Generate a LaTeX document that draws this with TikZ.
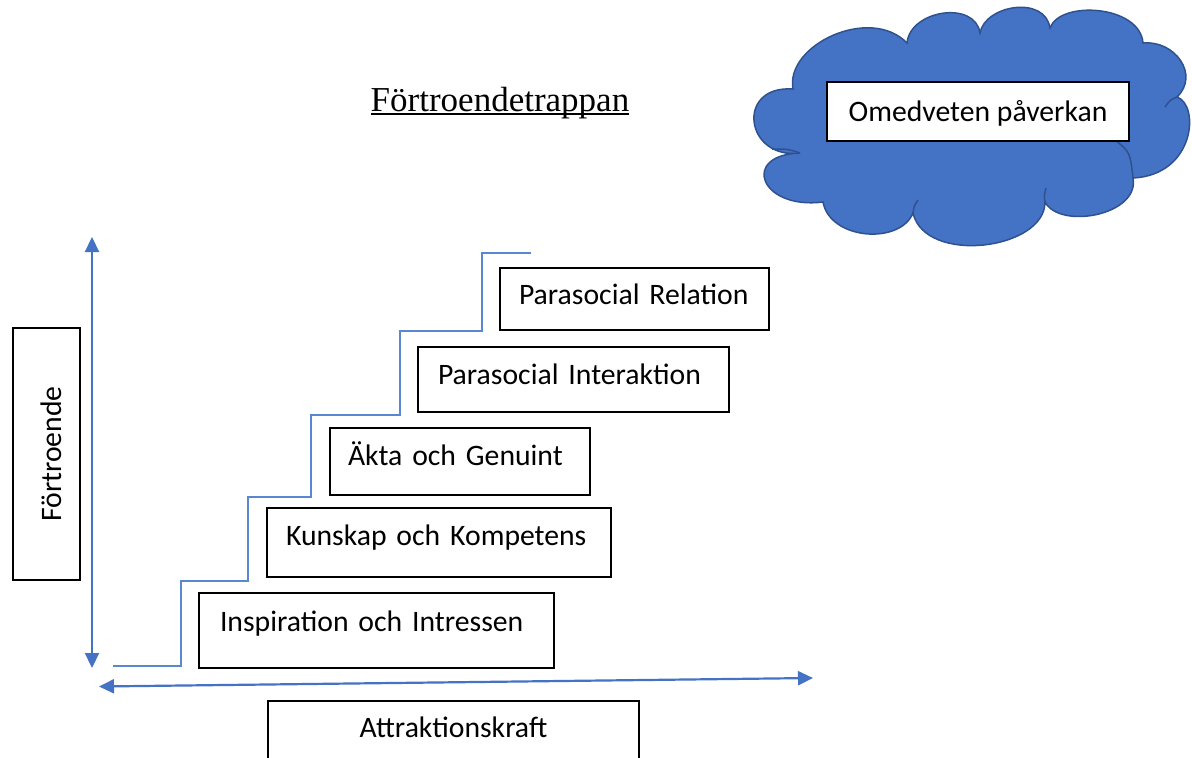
\documentclass[tikz,border=0pt]{standalone}
\usepackage{fontspec}
\setmainfont{Carlito}
\newfontfamily\titlefont{Liberation Serif}
\usetikzlibrary{arrows.meta}
\definecolor{cloudfill}{HTML}{4472C4}
\definecolor{cloudline}{HTML}{2F528F}
\definecolor{arrowblue}{HTML}{4472C4}
\definecolor{stairblue}{HTML}{5B87D2}
\newcommand\myul[1]{\setbox0\hbox{#1}\rlap{\copy0}\rule[-4pt]{\wd0}{1.8pt}}
\begin{document}
\begin{tikzpicture}[x=1pt,y=-1pt,
  stepbox/.style={draw=black, line width=2pt, fill=white, inner ysep=0pt,
    anchor=north west, align=left, font=\fontsize{29.7}{34}\selectfont},
  centerbox/.style={draw=black, line width=2pt, fill=white, inner sep=0pt,
    anchor=north west, align=center, font=\fontsize{29.7}{34}\selectfont},
  axisarrow/.style={draw=arrowblue, line width=2.2pt,
    {Triangle[length=15pt,width=14pt]}-{Triangle[length=15pt,width=14pt]}},
  stairline/.style={draw=stairblue, line width=2pt, line join=miter},
  cloudshape/.style={fill=cloudfill, draw=cloudline, line width=1.5pt},
  cloudinner/.style={draw=cloudline, line width=1.5pt}
]
\useasboundingbox (0,0) rectangle (1192,758);
\clip (0,0) rectangle (1192,758);
\fill[white] (0,0) rectangle (1192,758);

% title
\node[anchor=base, inner sep=0pt, font=\titlefont\fontsize{35}{40}\selectfont] (title) at (500,111) {\myul{Förtroendetrappan}};

% cloud
\path[cloudshape] (793,89)
  .. controls (785,45) and (870,5) .. (907,43)
  .. controls (910,10) and (975,0) .. (980,33)
  .. controls (985,5) and (1045,-5) .. (1050,28)
  .. controls (1060,0) and (1140,5) .. (1143,43)
  .. controls (1175,40) and (1200,75) .. (1177,97)
  .. controls (1200,105) and (1195,175) .. (1133,178)
  .. controls (1140,215) and (1060,230) .. (1045,202)
  .. controls (1045,250) and (925,265) .. (913,213)
  .. controls (900,245) and (830,240) .. (823,202)
  .. controls (760,210) and (740,155) .. (800,153)
  .. controls (745,160) and (735,85) .. (793,89) -- cycle;
\draw[cloudinner] (800,153) .. controls (788,149) .. (772,149);
\draw[cloudinner] (1177,97) .. controls (1170,100) .. (1165,107);
\draw[cloudinner] (1115,140) .. controls (1130,152) .. (1133,178);
\draw[cloudinner] (1045,202) .. controls (1044,196) .. (1046,188);
\draw[cloudinner] (913,213) .. controls (914,206) .. (918,200);
\node[centerbox, minimum width=302pt, minimum height=59pt, text height=39pt, text depth=20pt] (omed) at (826,81) {Omedveten påverkan};

% axes
\coordinate (vtop) at (92,237);
\coordinate (vbot) at (92,668);
\coordinate (hl) at (99,686.5);
\coordinate (hr) at (813,678);
\draw[axisarrow] (vbot) -- (vtop);
\draw[axisarrow] (hl) -- (hr);

% stairs
\coordinate (s0) at (113,666);
\coordinate (s1) at (531,253);
\draw[stairline] (s0) -| (181,581) -| (248,497) -| (311,415) -| (400,331) -| (482,253) -- (s1);

% step boxes
\node[stepbox, inner xsep=21pt, text width=313pt, minimum height=75pt, text height=38pt, text depth=37pt] (insp) at (198,592) {Inspiration och Intressen};
\node[stepbox, inner xsep=19pt, text width=306pt, minimum height=69pt, text height=37pt, text depth=32pt] (kuns) at (266,507) {Kunskap och Kompetens};
\node[stepbox, inner xsep=18pt, text width=224pt, minimum height=67pt, text height=37pt, text depth=30pt] (akta) at (329,427) {Äkta och Genuint};
\node[stepbox, inner xsep=20pt, text width=271pt, minimum height=65pt, text height=37pt, text depth=28pt] (inter) at (417,346) {Parasocial Interaktion};
\node[stepbox, inner xsep=19pt, text width=231pt, minimum height=62pt, text height=36pt, text depth=26pt] (rel) at (499,267) {Parasocial Relation};

% axis labels
\node[centerbox, minimum width=371pt, minimum height=80pt, text height=36pt, text depth=44pt] (attr) at (267,700) {Attraktionskraft};
\node[draw=black, line width=2pt, fill=white, inner sep=0pt, rotate=90, minimum width=252pt, minimum height=67pt, text height=48pt, text depth=19pt, font=\fontsize{29.7}{34}\selectfont] (fort) at (46.5,454) {Förtroende};
\end{tikzpicture}
\end{document}
